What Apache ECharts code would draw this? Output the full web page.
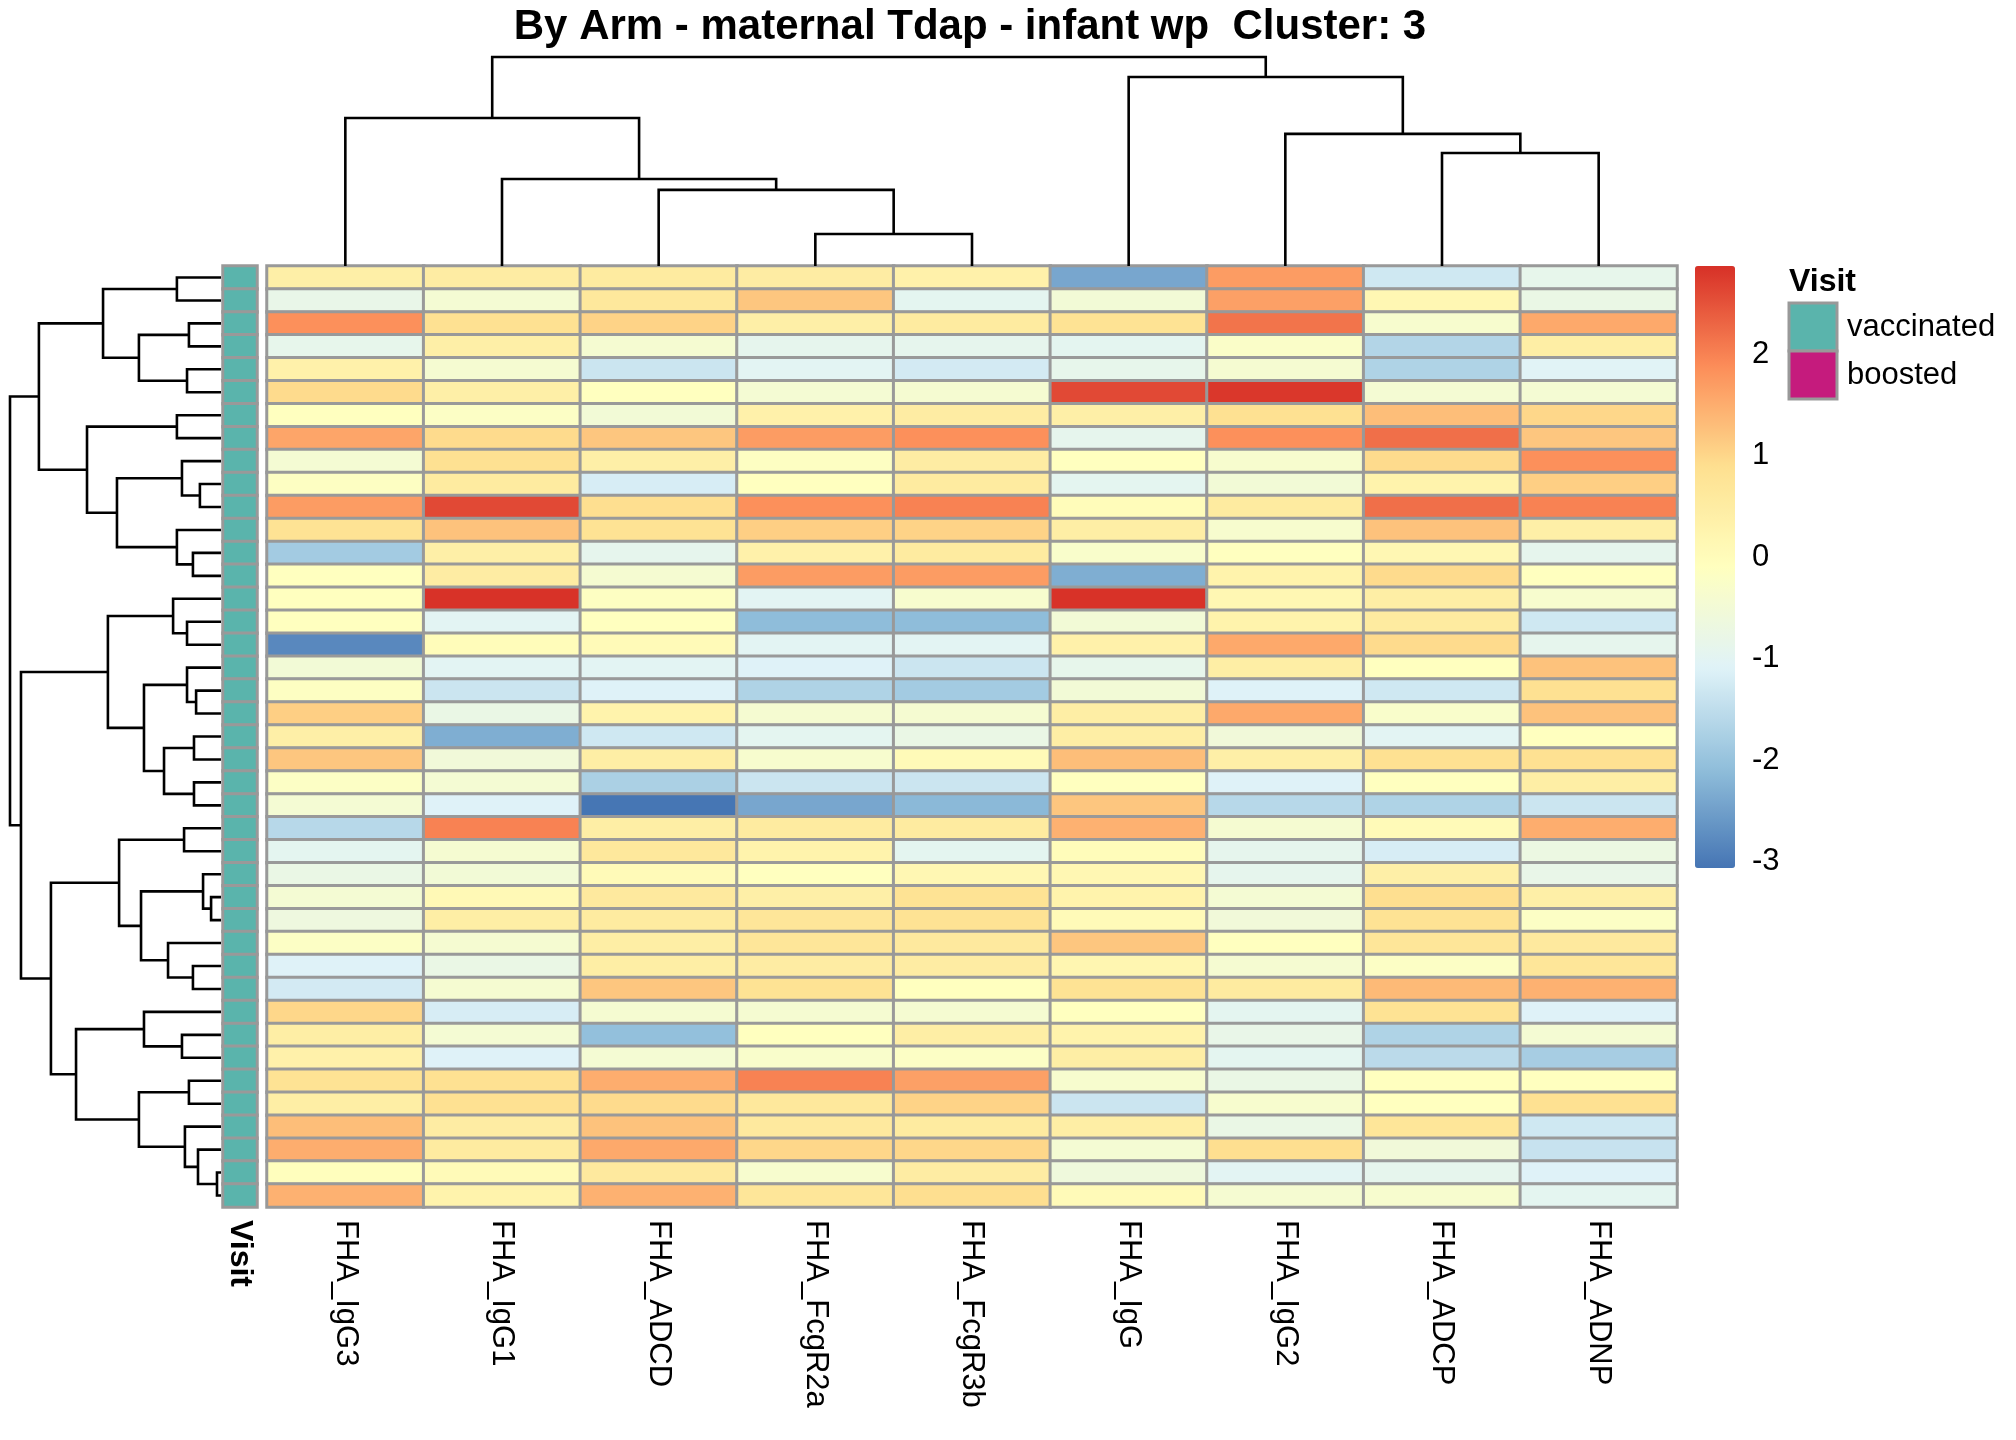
<!DOCTYPE html>
<html>
<head>
<meta charset="utf-8">
<title>By Arm - maternal Tdap - infant wp  Cluster: 3</title>
<script src="https://cdn.jsdelivr.net/npm/echarts@6/dist/echarts.min.js"></script>
<style>
  html, body { margin: 0; padding: 0; background: #fff; }
  #main { width: 2016px; height: 1440px; }
</style>
</head>
<body>
<div id="main"></div>
<script>
// column order as drawn (dendrogram leaf order)
var features = ['FHA_IgG3', 'FHA_IgG1', 'FHA_ADCD', 'FHA_FcgR2a', 'FHA_FcgR3b',
                'FHA_IgG', 'FHA_IgG2', 'FHA_ADCP', 'FHA_ADNP'];

// scaled values per feature, one entry per sample row (top to bottom)
var igg3   = [0.4, -0.8, 1.85, -0.85, 0.35, 0.95, -0.1, 1.6, -0.45, -0.15,
              1.7, 0.8, -1.85, -0.1, -0.1, -0.1, -2.8, -0.5, -0.15, 1.1,
              0.4, 1.2, -0.2, -0.45, -1.6, -0.95, -0.75, -0.45, -0.65, -0.2,
              -1.1, -1.25, 1.0, 0.45, 0.35, 0.8, 0.45, 1.3, 1.5, -0.05, 1.45];
var igg1   = [0.5, -0.45, 0.85, 0.4, -0.4, 0.4, -0.2, 0.95, 0.85, 0.55,
              2.6, 1.25, 0.4, 0.5, 2.85, -1.0, 0.0, -1.0, -1.35, -0.75,
              -2.3, -0.55, -0.45, -1.1, 2.0, -0.4, -0.5, 0.1, 0.45, -0.4,
              -0.75, -0.4, -1.2, -0.45, -1.1, 0.85, 0.85, 0.5, 0.55, 0.05, 0.3];
var adcd   = [0.55, 0.65, 1.05, -0.4, -1.35, -0.1, -0.5, 1.2, 0.4, -1.2,
              0.9, 0.8, -0.9, -0.4, -0.15, -0.1, 0.05, -1.0, -1.1, 0.3,
              -1.3, 0.45, -1.75, -3.05, 0.45, 0.65, 0.05, 0.6, 0.55, 0.45,
              0.45, 1.2, -0.4, -2.05, -0.45, 1.5, 0.95, 1.25, 1.55, 0.6, 1.45];
var fcgr2a = [0.5, 1.2, 0.4, -0.9, -1.0, -0.45, 0.35, 1.7, -0.15, -0.1,
              1.85, 1.1, 0.35, 1.7, -1.0, -2.1, -1.0, -1.1, -1.7, -0.4,
              -0.95, -0.35, -1.35, -2.4, 0.55, 0.3, -0.1, 0.4, 0.7, 0.7,
              0.5, 0.8, -0.4, -0.1, -0.3, 2.0, 0.65, 0.6, 1.0, -0.35, 0.7];
var fcgr3b = [0.35, -0.95, 0.55, -0.9, -1.25, -0.4, 0.5, 1.85, 0.5, 0.55,
              2.0, 1.05, 0.55, 1.7, -0.35, -2.1, -1.0, -1.35, -1.85, -0.4,
              -0.75, 0.05, -1.35, -2.15, 0.55, -0.95, 0.15, 0.8, 0.8, 0.6,
              0.5, -0.1, -0.4, 0.45, -0.2, 1.65, 1.05, 0.55, 1.0, 0.5, 0.9];
var igg    = [-2.4, -0.5, 0.8, -0.95, -0.85, 2.6, 0.4, -0.9, -0.1, -0.95,
              0.0, 0.45, -0.3, -2.3, 2.85, -0.5, 0.35, -0.85, -0.5, 0.45,
              0.45, 1.3, -0.1, 1.2, 1.45, 0.0, 0.15, 0.3, 0.05, 1.2,
              0.2, 0.8, -0.1, 0.3, 0.45, -0.35, -1.35, 0.45, -0.45, -0.6, 0.05];
var igg2   = [1.7, 1.65, 2.15, -0.25, -0.4, 2.8, 0.85, 1.85, -0.35, -0.5,
              0.55, -0.35, -0.1, 0.3, 0.15, 0.3, 1.55, 0.45, -1.1, 1.55,
              -0.55, 0.4, -1.1, -1.6, -0.4, -0.9, -0.9, -0.45, -0.55, -0.1,
              -0.4, 0.55, -0.95, -0.8, -0.95, -0.75, -0.35, -0.75, 0.9, -1.0, -0.4];
var adcp   = [-1.3, 0.15, -0.35, -1.65, -1.7, -0.45, 1.3, 2.2, 0.95, 0.3,
              2.2, 1.25, 0.15, 0.95, 0.45, 0.55, 0.95, -0.1, -1.3, -0.3,
              -1.0, 0.85, -0.1, -1.7, 0.05, -1.2, 0.4, 0.9, 0.8, 0.7,
              -0.2, 1.35, 0.8, -1.7, -1.55, -0.1, -0.1, 0.7, -0.55, -0.9, -0.35];
var adnp   = [-0.85, -0.75, 1.55, 0.45, -1.05, -0.45, 1.0, 1.2, 1.85, 1.1,
              2.0, 0.4, -0.9, -0.1, -0.35, -1.3, -0.9, 1.25, 0.85, 1.25,
              -0.1, 0.85, 0.45, -1.35, 1.5, -0.7, -0.8, 0.4, -0.2, 0.6,
              0.7, 1.45, -1.1, -0.45, -1.8, -0.1, 0.85, -1.3, -1.4, -1.1, -0.95];
var columns = [igg3, igg1, adcd, fcgr2a, fcgr3b, igg, igg2, adcp, adnp];

// annotation
var visitLevels = ['vaccinated', 'boosted'];
var visitColors = ['#5AB4AC', '#C51B7D'];
var visit = [];
for (var i = 0; i < igg3.length; i++) visit.push('vaccinated');

// colour scale (rev RdYlBu, 7 colours), range of the data and legend ticks
var palette = ['#4575B4', '#91BFDB', '#E0F3F8', '#FFFFBF', '#FEE090', '#FC8D59', '#D73027'];
var scaleMin = -3.06, scaleMax = 2.87;
var scaleTicks = [-3, -2, -1, 0, 1, 2];

// dendrograms: [left, right, height], leaves are row / column positions
var rowTree = [
  [
    [[0, 1, 2.09], [[2, 3, 1.52], [4, 5, 1.61], 3.89], 5.59],
    [[6, 7, 2.09], [[8, [9, 10, 1.0], 1.85], [11, [12, 13, 1.33], 2.09], 4.93], 6.35],
    8.63
  ],
  [
    [
      [14, [15, 16, 1.61], 2.27],
      [[17, [18, 19, 1.18], 1.61], [[20, 21, 1.28], [22, 23, 1.28], 2.70], 3.65],
      5.36
    ],
    [
      [[24, 25, 1.75], [[26, [27, 28, 0.47], 0.85], [29, [30, 31, 1.33], 2.51], 3.79], 4.83],
      [[32, [33, 34, 1.85], 3.65], [[35, 36, 1.52], [37, [38, [39, 40, 0.19], 1.09], 1.71], 3.89], 6.87],
      8.06
    ],
    9.48
  ],
  10
];
var colTree = [
  [0, [1, [2, [3, 4, 1.53], 3.64], 4.16], 7.08],
  [5, [6, [7, 8, 5.41], 6.32], 9.04],
  10
];

function walk(node, out) {
  if (typeof node === 'number') return { pos: node + 0.5, h: 0 };
  var a = walk(node[0], out), b = walk(node[1], out);
  out.push([a.pos, a.h, b.pos, b.h, node[2]]);
  return { pos: (a.pos + b.pos) / 2, h: node[2] };
}
var rowLinks = [], colLinks = [];
walk(rowTree, rowLinks);
walk(colTree, colLinks);

function linkRenderer(isRow) {
  return function (params, api) {
    var p1 = api.value(0), h1 = api.value(1), p2 = api.value(2), h2 = api.value(3), H = api.value(4);
    var pts = isRow
      ? [api.coord([h1, p1]), api.coord([H, p1]), api.coord([H, p2]), api.coord([h2, p2])]
      : [api.coord([p1, h1]), api.coord([p1, H]), api.coord([p2, H]), api.coord([p2, h2])];
    return { type: 'polyline', shape: { points: pts }, style: { stroke: '#000', lineWidth: 2.6, fill: null } };
  };
}

var rowIds = [];
var heatData = [];
for (var r = 0; r < igg3.length; r++) {
  rowIds.push(String(r + 1));
  for (var c = 0; c < columns.length; c++) heatData.push([c, r, columns[c][r]]);
}
var annData = visit.map(function (v, r) {
  return { value: [0, r, 1], itemStyle: { color: visitColors[visitLevels.indexOf(v)] } };
});

var FONT = 'Liberation Sans, Arial, sans-serif';
var HM = { left: 267, top: 266, width: 1410, height: 941 };

var myChart = echarts.init(document.getElementById('main'));

var legendGraphics = [{
  type: 'text', left: 1789, top: 266,
  style: { text: 'Visit', fontSize: 32, fontWeight: 'bold', fontFamily: FONT, fill: '#000' }
}];
visitLevels.forEach(function (lv, k) {
  legendGraphics.push({
    type: 'rect', shape: { x: 1789, y: 303 + k * 48, width: 48, height: 48 },
    style: { fill: visitColors[k], stroke: '#999999', lineWidth: 3 }
  });
  legendGraphics.push({
    type: 'text', x: 1847, y: 327 + k * 48,
    style: { text: lv, fontSize: 31, fontFamily: FONT, fill: '#000', verticalAlign: 'middle' }
  });
});

var option = {
  backgroundColor: '#fff',
  animation: false,
  title: {
    text: 'By Arm - maternal Tdap - infant wp  Cluster: 3',
    left: 965, top: 1, textAlign: 'center',
    textStyle: { fontSize: 42, fontWeight: 'bold', fontFamily: FONT, color: '#000' }
  },
  grid: [
    { left: HM.left, top: HM.top, width: HM.width, height: HM.height },   // heatmap
    { left: 223, top: HM.top, width: 34, height: HM.height },             // Visit annotation
    { left: 10, top: HM.top, width: 211, height: HM.height },             // row dendrogram
    { left: HM.left, top: 57, width: HM.width, height: 209 },             // column dendrogram
    { left: 1695, top: 266, width: 40, height: 602 }                      // colour legend axis
  ],
  xAxis: [
    {
      gridIndex: 0, type: 'category', data: features, position: 'bottom',
      axisLine: { show: false }, axisTick: { show: false }, splitLine: { show: false },
      axisLabel: { rotate: -90, fontSize: 31, fontFamily: FONT, color: '#000', margin: 13 }
    },
    {
      gridIndex: 1, type: 'category', data: ['Visit'], position: 'bottom',
      axisLine: { show: false }, axisTick: { show: false },
      axisLabel: { rotate: -90, fontSize: 32, fontWeight: 'bold', fontFamily: FONT, color: '#000', margin: 13 }
    },
    { gridIndex: 2, type: 'value', min: 0, max: 10, inverse: true, show: false },
    { gridIndex: 3, type: 'value', min: 0, max: features.length, show: false },
    { gridIndex: 4, type: 'value', show: false }
  ],
  yAxis: [
    { gridIndex: 0, type: 'category', data: rowIds, inverse: true, show: false },
    { gridIndex: 1, type: 'category', data: rowIds, inverse: true, show: false },
    { gridIndex: 2, type: 'value', min: 0, max: rowIds.length, inverse: true, show: false },
    { gridIndex: 3, type: 'value', min: 0, max: 10, show: false },
    {
      gridIndex: 4, type: 'value', min: scaleMin, max: scaleMax, position: 'right',
      axisLine: { show: false }, axisTick: { show: false }, splitLine: { show: false },
      axisLabel: { customValues: scaleTicks, fontSize: 31, fontFamily: FONT, color: '#000', margin: 17 }
    }
  ],
  visualMap: {
    type: 'continuous', seriesIndex: 0, min: scaleMin, max: scaleMax,
    left: 1695, top: 266, itemWidth: 40, itemHeight: 602, padding: 0,
    calculable: false, realtime: false, hoverLink: false, text: null,
    showLabel: false,
    inRange: { color: palette }
  },
  graphic: legendGraphics,
  series: [
    {
      type: 'heatmap', xAxisIndex: 0, yAxisIndex: 0, data: heatData, silent: true,
      itemStyle: { borderColor: '#999999', borderWidth: 3 },
      emphasis: { disabled: true }
    },
    {
      type: 'heatmap', xAxisIndex: 1, yAxisIndex: 1, data: annData, silent: true,
      itemStyle: { borderColor: '#999999', borderWidth: 3 },
      emphasis: { disabled: true }
    },
    {
      type: 'custom', xAxisIndex: 2, yAxisIndex: 2, data: rowLinks, silent: true,
      renderItem: linkRenderer(true)
    },
    {
      type: 'custom', xAxisIndex: 3, yAxisIndex: 3, data: colLinks, silent: true,
      renderItem: linkRenderer(false)
    }
  ]
};

myChart.setOption(option);
</script>
</body>
</html>
